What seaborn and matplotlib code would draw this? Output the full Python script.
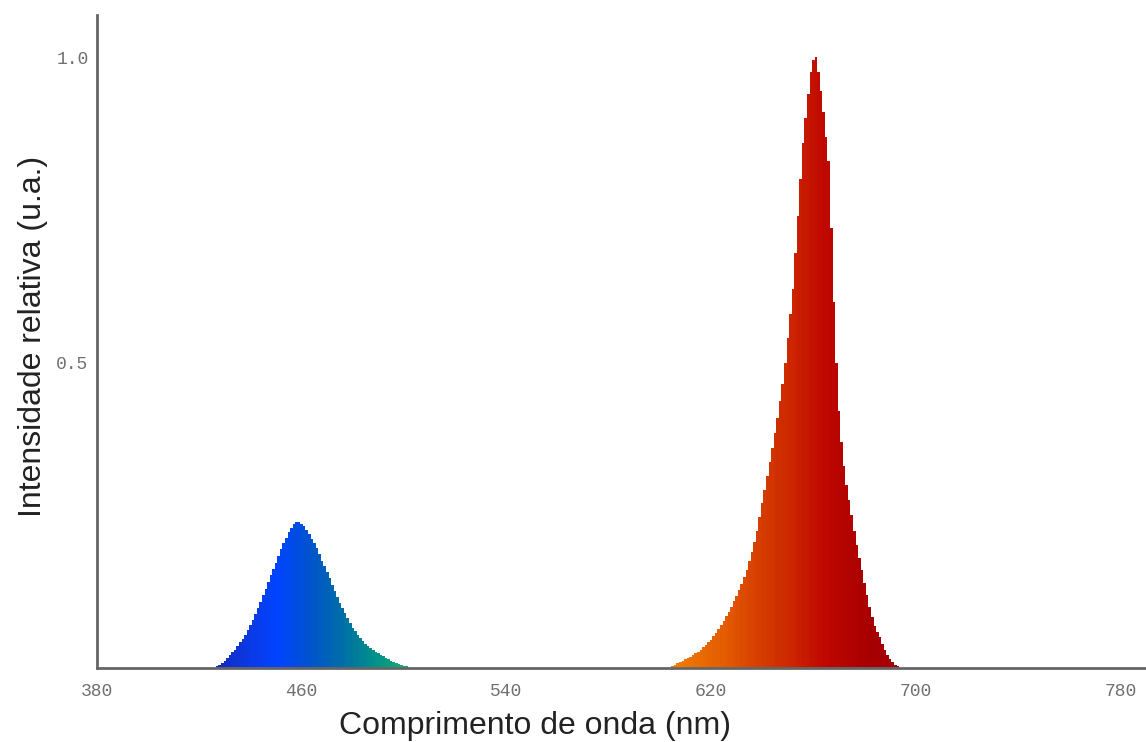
import matplotlib
matplotlib.use('Agg')
from matplotlib import pyplot as plt
from matplotlib.colors import LinearSegmentedColormap, Normalize
import seaborn as sns
import pandas as pd

sns.set_style('white')
plt.rcParams['font.family'] = ['Liberation Sans', 'DejaVu Sans']

# emission spectrum, one value per nm
blue_nm = list(range(427, 502))
blue_int = [0.003, 0.005, 0.008, 0.012, 0.017, 0.022, 0.026, 0.030, 0.036,
            0.042, 0.048, 0.054, 0.062, 0.070, 0.079, 0.088, 0.098, 0.108,
            0.119, 0.130, 0.141, 0.152, 0.162, 0.172, 0.184, 0.195, 0.204,
            0.213, 0.222, 0.230, 0.236, 0.239, 0.239, 0.236, 0.232, 0.226,
            0.219, 0.212, 0.205, 0.197, 0.187, 0.176, 0.167, 0.158, 0.147,
            0.136, 0.126, 0.116, 0.107, 0.098, 0.090, 0.082, 0.074, 0.066,
            0.060, 0.054, 0.049, 0.044, 0.040, 0.036, 0.033, 0.030, 0.027,
            0.025, 0.022, 0.019, 0.016, 0.014, 0.012, 0.010, 0.008, 0.007,
            0.005, 0.004, 0.003]
red_nm = list(range(605, 694))
red_int = [0.003, 0.005, 0.008, 0.010, 0.012, 0.014, 0.016, 0.018, 0.021,
           0.024, 0.027, 0.030, 0.034, 0.038, 0.042, 0.046, 0.052, 0.058,
           0.064, 0.070, 0.077, 0.085, 0.092, 0.100, 0.109, 0.118, 0.128,
           0.138, 0.149, 0.160, 0.175, 0.190, 0.207, 0.225, 0.247, 0.270,
           0.292, 0.315, 0.337, 0.360, 0.385, 0.410, 0.437, 0.465, 0.500,
           0.540, 0.580, 0.620, 0.680, 0.740, 0.800, 0.860, 0.900, 0.940,
           0.975, 0.995, 1.000, 0.975, 0.945, 0.910, 0.870, 0.830, 0.720,
           0.600, 0.500, 0.420, 0.370, 0.330, 0.300, 0.275, 0.250, 0.225,
           0.202, 0.180, 0.160, 0.140, 0.120, 0.100, 0.083, 0.068, 0.059,
           0.050, 0.040, 0.030, 0.022, 0.015, 0.010, 0.005, 0.003]

x_ticks = [380, 460, 540, 620, 700, 780]
y_ticks = [0.5, 1.0]

# colour of the light at each wavelength
lo, hi = 380, 790
stops = [(380, '#1428b8'), (425, '#1428b8'), (440, '#0a3ae8'), (450, '#0044ff'),
         (462, '#0052d0'), (475, '#006ca8'), (488, '#00908a'), (500, '#18a870'),
         (550, '#a0b040'), (606, '#f07c00'), (625, '#e45c00'), (640, '#d43c00'),
         (652, '#cc2400'), (664, '#c00800'), (680, '#aa0000'), (694, '#a00008'),
         (790, '#a00008')]
cmap = LinearSegmentedColormap.from_list(
    'spectrum', [((w - lo) / (hi - lo), c) for w, c in stops])
norm = Normalize(lo, hi)

df = pd.DataFrame({'nm': blue_nm + red_nm, 'intensity': blue_int + red_int})

fig = plt.figure(figsize=(11.46, 7.42), dpi=100)
ax = fig.add_axes([0.0846, 0.0997, 0.9154, 0.880])

sns.histplot(data=df, x='nm', weights='intensity', binwidth=1,
             binrange=(426.5, 693.5), element='bars', fill=True, linewidth=0,
             alpha=1, ax=ax)
for p in ax.patches:
    p.set_facecolor(cmap(norm(p.get_x() + p.get_width() / 2)))
    p.set_edgecolor('none')

ax.set_xlim(lo, hi)
ax.set_ylim(0, 1.069)
ax.set_xticks(x_ticks)
ax.set_yticks(y_ticks)
ax.set_xticklabels([str(t) for t in x_ticks], family='Liberation Mono',
                   fontsize=13, color='#707070')
ax.set_yticklabels(['%.1f' % t for t in y_ticks], family='Liberation Mono',
                   fontsize=13, color='#707070')
ax.tick_params(axis='x', length=0, pad=11)
ax.tick_params(axis='y', direction='in', length=7, width=1.5,
               color='#666666', pad=6)

for s in ['top', 'right']:
    ax.spines[s].set_visible(False)
for s in ['left', 'bottom']:
    ax.spines[s].set_color('#666666')
    ax.spines[s].set_linewidth(2)

ax.set_xlabel('Comprimento de onda (nm)', fontsize=23, color='#222222')
ax.set_ylabel('Intensidade relativa (u.a.)', fontsize=23, color='#222222')
ax.xaxis.set_label_coords(0.4175, -0.066)
ax.yaxis.set_label_coords(-0.047, 0.508)

fig.savefig('out.png', dpi=100)
